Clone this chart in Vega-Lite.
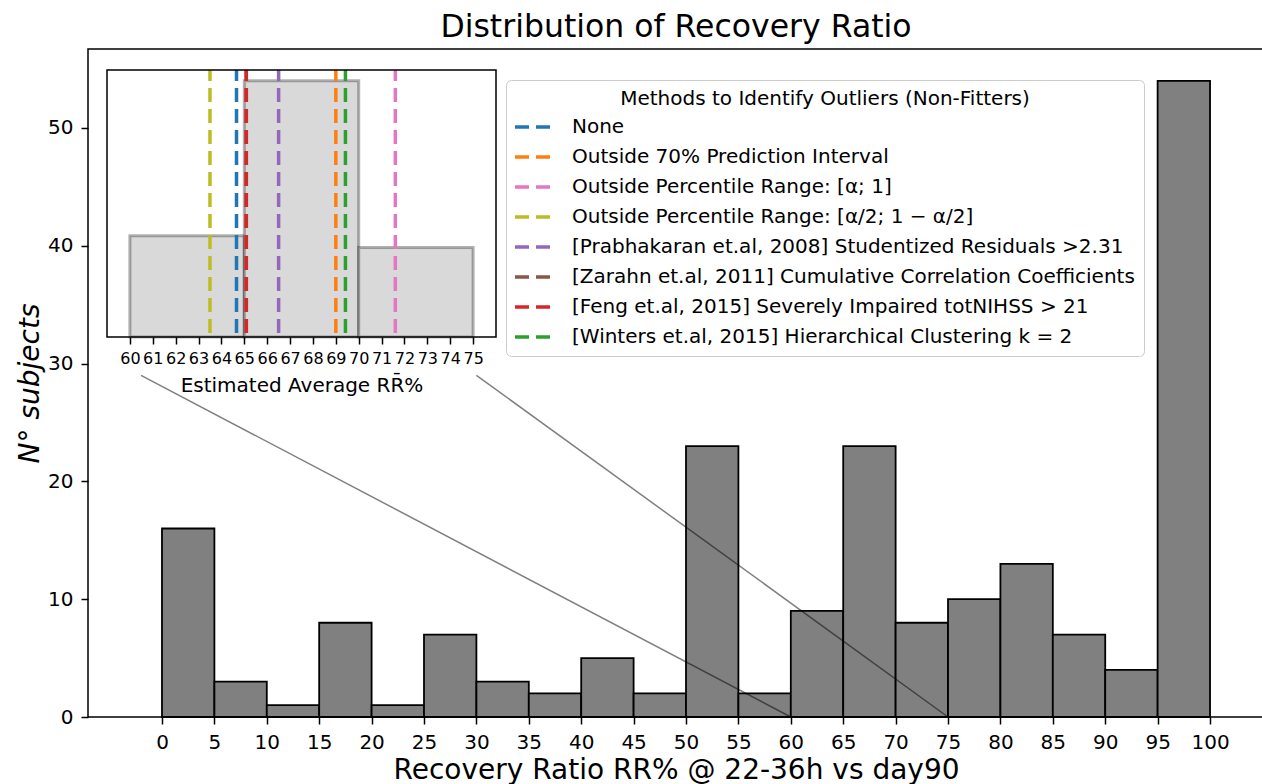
{
  "$schema": "https://vega.github.io/schema/vega-lite/v6.json",
  "width": 1176,
  "height": 668,
  "autosize": {"type": "none"},
  "padding": {"left": 88, "top": 49, "right": 0, "bottom": 67},
  "background": "white",
  "config": {
    "font": "DejaVu Sans",
    "view": {"stroke": "black", "strokeWidth": 1.5},
    "axis": {"labelFont": "DejaVu Sans", "titleFont": "DejaVu Sans", "labelColor": "black", "titleColor": "black", "tickColor": "black", "titleFontWeight": "normal", "grid": false}
  },
  "title": {"text": "Distribution of Recovery Ratio", "fontSize": 31.5, "fontWeight": "normal", "color": "black", "font": "DejaVu Sans", "baseline": "alphabetic", "frame": "group", "anchor": "middle", "offset": 12, "dy": 31},
  "datasets": {
    "main": [
      {"bin_start": 0, "bin_end": 5, "count": 16},
      {"bin_start": 5, "bin_end": 10, "count": 3},
      {"bin_start": 10, "bin_end": 15, "count": 1},
      {"bin_start": 15, "bin_end": 20, "count": 8},
      {"bin_start": 20, "bin_end": 25, "count": 1},
      {"bin_start": 25, "bin_end": 30, "count": 7},
      {"bin_start": 30, "bin_end": 35, "count": 3},
      {"bin_start": 35, "bin_end": 40, "count": 2},
      {"bin_start": 40, "bin_end": 45, "count": 5},
      {"bin_start": 45, "bin_end": 50, "count": 2},
      {"bin_start": 50, "bin_end": 55, "count": 23},
      {"bin_start": 55, "bin_end": 60, "count": 2},
      {"bin_start": 60, "bin_end": 65, "count": 9},
      {"bin_start": 65, "bin_end": 70, "count": 23},
      {"bin_start": 70, "bin_end": 75, "count": 8},
      {"bin_start": 75, "bin_end": 80, "count": 10},
      {"bin_start": 80, "bin_end": 85, "count": 13},
      {"bin_start": 85, "bin_end": 90, "count": 7},
      {"bin_start": 90, "bin_end": 95, "count": 4},
      {"bin_start": 95, "bin_end": 100, "count": 54}
    ],
    "connectors": [
      {"x_from": -2, "y_from": 29, "x_to": 60, "y_to": 0},
      {"x_from": 30, "y_from": 29, "x_to": 75, "y_to": 0}
    ],
    "inset": [
      {"start": 60, "end": 65, "count": 41},
      {"start": 65, "end": 70, "count": 54},
      {"start": 70, "end": 75, "count": 40}
    ],
    "methods": [
      {"method": "None", "value": 64.66},
      {"method": "Outside 70% Prediction Interval", "value": 69.0},
      {"method": "Outside Percentile Range: [α; 1]", "value": 71.6},
      {"method": "Outside Percentile Range: [α/2; 1 − α/2]", "value": 63.5},
      {"method": "[Prabhakaran et.al, 2008] Studentized Residuals >2.31", "value": 66.5},
      {"method": "[Zarahn et.al, 2011] Cumulative Correlation Coefficients", "value": 65.08},
      {"method": "[Feng et.al, 2015] Severely Impaired totNIHSS > 21", "value": 65.09},
      {"method": "[Winters et.al, 2015] Hierarchical Clustering k = 2", "value": 69.42}
    ]
  },
  "layer": [
    {
      "layer": [
        {
          "data": {"name": "main"},
          "mark": {"type": "bar", "fill": "#808080", "stroke": "black", "strokeWidth": 1.8},
          "encoding": {
            "x": {"field": "bin_start", "type": "quantitative", "scale": {"domain": [-7.06, 105.15], "nice": false, "zero": false},
              "axis": {"values": [0, 5, 10, 15, 20, 25, 30, 35, 40, 45, 50, 55, 60, 65, 70, 75, 80, 85, 90, 95, 100], "format": "d", "title": "Recovery Ratio RR% @ 22-36h vs day90", "titleFontSize": 28, "labelFontSize": 20, "tickSize": 7, "tickWidth": 1.5, "domain": false, "labelPadding": 8, "titlePadding": 4, "labelFlush": false, "labelOverlap": false}},
            "x2": {"field": "bin_end"},
            "y": {"field": "count", "type": "quantitative", "scale": {"domain": [0, 56.7], "nice": false},
              "axis": {"values": [0, 10, 20, 30, 40, 50], "format": "d", "title": "N° subjects", "titleFontSize": 28, "titleFontStyle": "italic", "labelFontSize": 20, "tickSize": 7, "tickWidth": 1.5, "domain": false, "labelPadding": 8, "titlePadding": 3}},
            "y2": {"datum": 0}
          }
        },
        {
          "data": {"name": "connectors"},
          "mark": {"type": "rule", "color": "black", "opacity": 0.5, "strokeWidth": 1.5},
          "encoding": {
            "x": {"field": "x_from", "type": "quantitative"},
            "x2": {"field": "x_to"},
            "y": {"field": "y_from", "type": "quantitative"},
            "y2": {"field": "y_to"}
          }
        }
      ]
    },
    {
      "layer": [
        {
          "data": {"name": "inset"},
          "mark": {"type": "bar", "fill": "#d9d9d9", "stroke": "black", "strokeOpacity": 0.3, "strokeWidth": 3},
          "encoding": {
            "x": {"field": "start", "type": "quantitative", "scale": {"domain": [59, 76], "range": [19, 408], "nice": false, "zero": false},
              "axis": {"orient": "bottom", "offset": -380, "values": [60, 61, 62, 63, 64, 65, 66, 67, 68, 69, 70, 71, 72, 73, 74, 75], "format": "d", "labelFontSize": 16, "tickSize": 7, "tickWidth": 1.5, "domain": false, "labelPadding": 6, "title": "Estimated Average RR̄%", "titleFontSize": 20, "titlePadding": 9, "labelFlush": false, "labelOverlap": false}},
            "x2": {"field": "end"},
            "y": {"field": "count", "type": "quantitative", "scale": {"domain": [32.5, 54.9], "range": [288, 21], "nice": false, "zero": false}, "axis": null},
            "y2": {"datum": 32.5}
          }
        },
        {
          "data": {"name": "methods"},
          "mark": {"type": "rule", "strokeWidth": 3.5, "strokeDash": [14, 7], "strokeDashOffset": 3},
          "encoding": {
            "x": {"field": "value", "type": "quantitative"},
            "y": {"datum": 54.9, "type": "quantitative", "axis": null},
            "y2": {"datum": 32.5},
            "color": {"field": "method", "type": "nominal",
              "scale": {"domain": ["None", "Outside 70% Prediction Interval", "Outside Percentile Range: [α; 1]", "Outside Percentile Range: [α/2; 1 − α/2]", "[Prabhakaran et.al, 2008] Studentized Residuals >2.31", "[Zarahn et.al, 2011] Cumulative Correlation Coefficients", "[Feng et.al, 2015] Severely Impaired totNIHSS > 21", "[Winters et.al, 2015] Hierarchical Clustering k = 2"],
                "range": ["#1f77b4", "#ff7f0e", "#e377c2", "#bcbd22", "#9467bd", "#8c564b", "#d62728", "#2ca02c"]},
              "legend": {"orient": "none", "legendX": 418, "legendY": 31, "title": "Methods to Identify Outliers (Non-Fitters)", "titleFont": "DejaVu Sans", "titleFontSize": 20, "titleFontWeight": "normal", "titleAnchor": "middle", "titleLimit": 1000, "titlePadding": 6, "titleColor": "black", "labelFont": "DejaVu Sans", "labelFontSize": 20, "labelColor": "black", "labelOffset": 33, "labelLimit": 1000, "symbolType": "M-1.2,0H2.5", "symbolSize": 400, "symbolStrokeWidth": 3.5, "symbolDash": [14, 7], "symbolFillColor": "transparent", "rowPadding": 8, "padding": 9, "strokeColor": "#cccccc", "fillColor": "rgba(255,255,255,0.8)", "cornerRadius": 5}}
          }
        },
        {
          "data": {"values": [{}]},
          "mark": {"type": "rect", "fillOpacity": 0, "stroke": "black", "strokeWidth": 1.5},
          "encoding": {
            "x": {"datum": 59, "type": "quantitative"},
            "x2": {"datum": 76},
            "y": {"datum": 32.5, "type": "quantitative", "axis": null},
            "y2": {"datum": 54.9}
          }
        }
      ]
    }
  ],
  "resolve": {"scale": {"x": "independent", "y": "independent"}}
}
